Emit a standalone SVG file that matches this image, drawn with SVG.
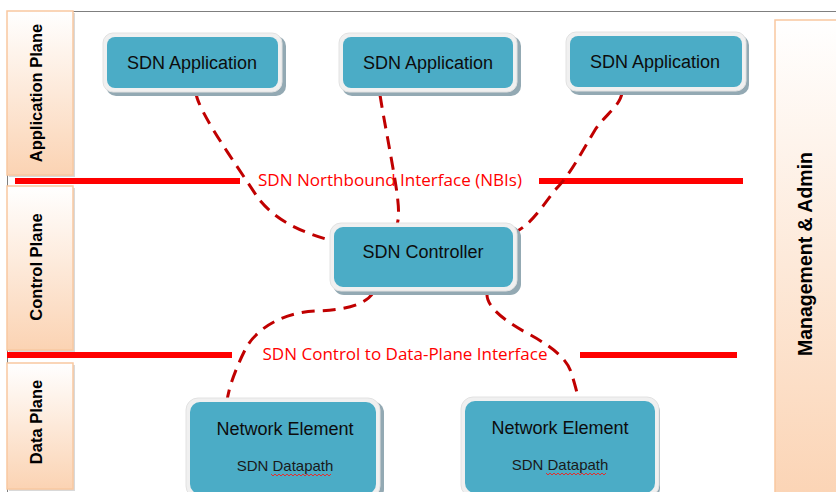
<svg xmlns="http://www.w3.org/2000/svg" width="836" height="492" viewBox="0 0 836 492">
<defs>
<linearGradient id="peach" x1="0" y1="0" x2="0" y2="1">
<stop offset="0" stop-color="#ffffff"/>
<stop offset="1" stop-color="#fbd3b3"/>
</linearGradient>
<style>
.panel{fill:url(#peach);stroke:#f9c8a0;stroke-width:1.5}
.pshadow{fill:#d9d9d9}
.ptext{font-family:"Liberation Sans",Arial,sans-serif;font-weight:bold;font-size:16.5px;fill:#000;text-anchor:middle}
.outer{fill:#f0f0f0;stroke:#e2e2e2;stroke-width:1}
.oshadow{fill:#93a9b3}
.inner{fill:#4bacc6}
.ntext{font-family:"Liberation Sans",Arial,sans-serif;font-size:18px;fill:#0d0d0d;text-anchor:middle}
.stext{font-family:"Liberation Sans",Arial,sans-serif;font-size:15px;fill:#1a1a1a;text-anchor:middle}
.iface{stroke:#ff0000;stroke-width:6;fill:none}
.itext{font-family:"Open Sans","Liberation Sans",sans-serif;font-size:16.5px;fill:#ff0000;text-anchor:middle}
.conn{stroke:#c00000;stroke-width:3;fill:none;stroke-dasharray:13 8}
.squig{stroke:#e03030;stroke-width:1;fill:none}
</style>
</defs>
<rect x="0" y="0" width="836" height="492" fill="#ffffff"/>
<rect x="7.5" y="11.5" width="840" height="500" fill="none" stroke="#7f7f7f" stroke-width="1"/>

<g id="plane-application">
<rect class="pshadow" x="9" y="13" width="66" height="164"/>
<rect class="panel" x="7" y="11" width="66" height="164"/>
<text class="ptext" transform="translate(42,93) rotate(-90)">Application Plane</text>
</g>
<g id="plane-control">
<rect class="pshadow" x="9" y="188" width="66" height="164"/>
<rect class="panel" x="7" y="186" width="66" height="164"/>
<text class="ptext" transform="translate(42,267) rotate(-90)">Control Plane</text>
</g>
<g id="plane-data">
<rect class="pshadow" x="9" y="365" width="66" height="126"/>
<rect class="panel" x="7" y="363" width="66" height="126"/>
<text class="ptext" transform="translate(42,422) rotate(-90)">Data Plane</text>
</g>
<g id="management-admin">
<rect class="panel" x="775" y="20" width="70" height="490"/>
<text class="ptext" style="font-size:19.5px" transform="translate(812,254) rotate(-90)">Management &amp; Admin</text>
</g>

<g id="interfaces">
<line class="iface" x1="15" y1="181" x2="240" y2="181"/>
<line class="iface" x1="539" y1="181" x2="743" y2="181"/>
<text class="itext" x="390" y="186" textLength="264" lengthAdjust="spacingAndGlyphs">SDN Northbound Interface (NBIs)</text>
<line class="iface" x1="7" y1="355" x2="232" y2="355"/>
<line class="iface" x1="580" y1="355" x2="737" y2="355"/>
<text class="itext" x="405" y="360" textLength="285" lengthAdjust="spacingAndGlyphs">SDN Control to Data-Plane Interface</text>
</g>

<g id="connectors">
<path class="conn" d="M196,93 C198,112 240,170 258,198 C275,220 300,232 333,241"/>
<path class="conn" d="M380,95 C384,120 390,150 395,180 C399,205 400,218 396,228"/>
<path class="conn" d="M622,93 C620,106 605,115 595,130 C580,155 570,175 555,190 C540,210 530,225 514,233"/>
<path class="conn" d="M373,293 C365,305 345,310 315,311 C280,313 255,330 245,350 C235,370 228,390 227,402"/>
<path class="conn" d="M487,293 C486,305 500,318 525,332 C555,348 568,360 572,375 C575,385 577,392 578,398"/>
</g>

<g id="app1">
<rect class="oshadow" x="106" y="36" width="180" height="60" rx="10"/>
<rect class="outer" x="103" y="33" width="179" height="59" rx="10"/>
<rect class="inner" x="107" y="37" width="171" height="51" rx="8"/>
<text class="ntext" x="192" y="69">SDN Application</text>
</g>
<g id="app2">
<rect class="oshadow" x="342" y="36" width="179" height="60" rx="10"/>
<rect class="outer" x="339" y="33" width="178" height="59" rx="10"/>
<rect class="inner" x="343" y="37" width="170" height="51" rx="8"/>
<text class="ntext" x="428" y="69">SDN Application</text>
</g>
<g id="app3">
<rect class="oshadow" x="569" y="35" width="180" height="60" rx="10"/>
<rect class="outer" x="566" y="32" width="180" height="59" rx="10"/>
<rect class="inner" x="570" y="36" width="172" height="51" rx="8"/>
<text class="ntext" x="655" y="68">SDN Application</text>
</g>
<g id="controller">
<rect class="oshadow" x="333" y="226" width="188" height="69" rx="11"/>
<rect class="outer" x="330" y="223" width="187" height="68" rx="11"/>
<rect class="inner" x="334" y="227" width="179" height="60" rx="9"/>
<text class="ntext" x="423" y="258">SDN Controller</text>
</g>
<g id="ne1">
<rect class="oshadow" x="189" y="401" width="195" height="100" rx="12"/>
<rect class="outer" x="186" y="398" width="194" height="100" rx="12"/>
<rect class="inner" x="190" y="402" width="186" height="92" rx="10"/>
<text class="ntext" x="285" y="435">Network Element</text>
<text class="stext" x="285" y="471">SDN Datapath</text>
<path class="squig" d="M271,474 l2,2 l2,-2 l2,2 l2,-2 l2,2 l2,-2 l2,2 l2,-2 l2,2 l2,-2 l2,2 l2,-2 l2,2 l2,-2 l2,2 l2,-2 l2,2 l2,-2 l2,2 l2,-2 l2,2 l2,-2 l2,2 l2,-2 l2,2 l2,-2 l2,2 l2,-2 l2,2 l2,-2"/>
</g>
<g id="ne2">
<rect class="oshadow" x="465" y="400" width="195" height="100" rx="12"/>
<rect class="outer" x="461" y="397" width="198" height="100" rx="12"/>
<rect class="inner" x="465" y="401" width="190" height="92" rx="10"/>
<text class="ntext" x="560" y="434">Network Element</text>
<text class="stext" x="560" y="470">SDN Datapath</text>
<path class="squig" d="M546,473 l2,2 l2,-2 l2,2 l2,-2 l2,2 l2,-2 l2,2 l2,-2 l2,2 l2,-2 l2,2 l2,-2 l2,2 l2,-2 l2,2 l2,-2 l2,2 l2,-2 l2,2 l2,-2 l2,2 l2,-2 l2,2 l2,-2 l2,2 l2,-2 l2,2 l2,-2 l2,2 l2,-2"/>
</g>
</svg>
